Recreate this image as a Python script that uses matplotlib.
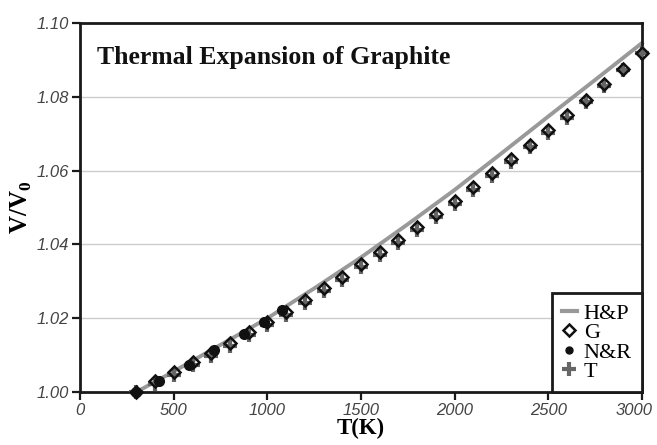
"""
plot.py
Thermal expansion of graphite: V/V0 against temperature.
Writes out.png
"""

import matplotlib.pyplot as plt
import matplotlib.transforms as mtransforms
from matplotlib.lines import Line2D

# -----------------------------
# Data
# -----------------------------
hp_T = [300, 500, 750, 1000, 1250, 1500, 1750, 2000, 2250, 2500, 2750, 3000]
hp_v = [1.0000, 1.0056, 1.0128, 1.0200, 1.0281, 1.0365, 1.0455, 1.0548,
        1.0647, 1.0747, 1.0846, 1.0946]

g_T = [300, 400, 500, 600, 700, 800, 900, 1000, 1100, 1200, 1300, 1400,
       1500, 1600, 1700, 1800, 1900, 2000, 2100, 2200, 2300, 2400, 2500,
       2600, 2700, 2800, 2900, 3000]
g_v = [1.0000, 1.0030, 1.0055, 1.0081, 1.0107, 1.0134, 1.0162, 1.0190,
       1.0217, 1.0250, 1.0281, 1.0313, 1.0346, 1.0379, 1.0413, 1.0448,
       1.0483, 1.0519, 1.0556, 1.0594, 1.0632, 1.0671, 1.0710, 1.0751,
       1.0792, 1.0835, 1.0877, 1.0920]

nr_T = [300, 420, 580, 715, 875, 980, 1080]
nr_v = [1.0000, 1.0031, 1.0074, 1.0113, 1.0158, 1.0190, 1.0222]

t_T = g_T
t_v = [1.0000, 1.0022, 1.0047, 1.0073, 1.0099, 1.0126, 1.0154, 1.0182,
       1.0209, 1.0242, 1.0273, 1.0305, 1.0338, 1.0371, 1.0405, 1.0440,
       1.0475, 1.0511, 1.0548, 1.0586, 1.0624, 1.0663, 1.0702, 1.0744,
       1.0786, 1.0829, 1.0872, 1.0918]

x_ticks = [0, 500, 1000, 1500, 2000, 2500, 3000]
y_ticks = [1.00, 1.02, 1.04, 1.06, 1.08, 1.10]

SERIF = "Liberation Serif"
TICKFONT = "Liberation Sans"

# -----------------------------
# Figure
# -----------------------------
fig = plt.figure(figsize=(6.57, 4.45), dpi=100)
ax = fig.add_axes([0.122, 0.119, 0.855, 0.829])

for y in y_ticks[1:-1]:
    ax.axhline(y, color="#cccccc", lw=1.0, zorder=0)

ax.plot(hp_T, hp_v, color="#999999", lw=2.8, zorder=2, clip_on=False)
ax.plot(t_T, t_v, ls="none", marker="+", ms=10, mew=3, color="#666666",
        zorder=3, clip_on=False)
ax.plot(nr_T, nr_v, ls="none", marker="o", ms=7, color="#111111",
        zorder=4, clip_on=False)
ax.plot(g_T, g_v, ls="none", marker="D", ms=6.5, mew=1.8, mec="#111111",
        mfc="none", zorder=5, clip_on=False)

ax.set_xlim(0, 3000)
ax.set_ylim(1.00, 1.10)
ax.set_xticks(x_ticks)
ax.set_yticks(y_ticks)
ax.set_xticklabels([str(v) for v in x_ticks])
ax.set_yticklabels([f"{v:.2f}" for v in y_ticks])

for s in ax.spines.values():
    s.set_linewidth(2.0)
    s.set_color("#1a1a1a")

ax.tick_params(direction="out", length=6, width=1.6, color="#1a1a1a",
               labelsize=12, labelcolor="#444444", pad=2)
for lab in ax.get_xticklabels() + ax.get_yticklabels():
    lab.set_fontstyle("italic")
    lab.set_family(TICKFONT)

# last x label sits a bit left so it stays inside the picture
last = ax.get_xticklabels()[-1]
last.set_transform(last.get_transform() +
                   mtransforms.ScaledTranslation(-8 / 100, 0,
                                                 fig.dpi_scale_trans))

ax.text(0.03, 0.89, "Thermal Expansion of Graphite", transform=ax.transAxes,
        family=SERIF, fontweight="bold", fontsize=18.5, color="#111111")

ax.set_xlabel("T(K)", family=SERIF, fontweight="bold", fontsize=16.5,
              labelpad=0)
ax.set_ylabel(r"V/V$_\mathregular{0}$", family=SERIF, fontweight="bold",
              fontsize=18, labelpad=2)

# -----------------------------
# Legend
# -----------------------------
handles = [
    Line2D([], [], color="#999999", lw=3),
    Line2D([], [], ls="none", marker="D", ms=6, mew=1.8, mec="#111111",
           mfc="white"),
    Line2D([], [], ls="none", marker="o", ms=5, color="#111111"),
    Line2D([], [], ls="none", marker="+", ms=10, mew=3, color="#666666"),
]
leg = ax.legend(handles, ["H&P", "G", "N&R", "T"], loc="lower right",
                borderaxespad=0, fancybox=False, framealpha=1,
                handlelength=0.7, handletextpad=0.3, labelspacing=-0.05,
                borderpad=0.45, prop={"family": SERIF, "size": 16})
leg.get_frame().set_edgecolor("#1a1a1a")
leg.get_frame().set_linewidth(2.0)
leg.set_zorder(10)

fig.savefig("out.png", dpi=100)
